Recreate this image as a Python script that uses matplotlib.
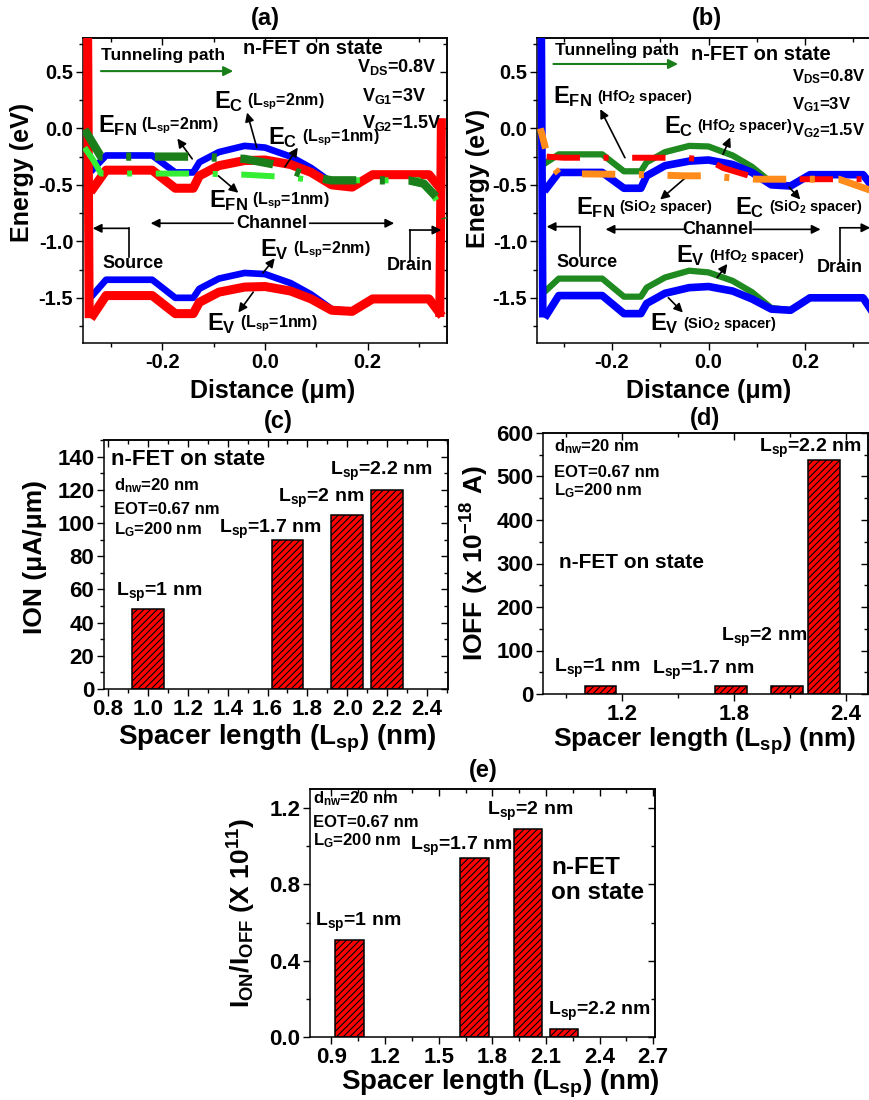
import matplotlib
matplotlib.use("Agg")
import matplotlib.pyplot as plt
from matplotlib.ticker import MultipleLocator, FormatStrFormatter

plt.rcParams.update({
    "font.family": "Liberation Sans",
    "font.weight": "bold",
    "axes.labelweight": "bold",
    "mathtext.fontset": "custom",
    "mathtext.rm": "Liberation Sans:bold",
    "mathtext.it": "Liberation Sans:bold",
    "mathtext.bf": "Liberation Sans:bold",
    "mathtext.sf": "Liberation Sans:bold",
    "mathtext.default": "bf",
    "axes.unicode_minus": False,
    "lines.scale_dashes": False,
    "hatch.linewidth": 0.8,
    "axes.linewidth": 1.1,
})

# ---------------- band-diagram data (a): spacer length 1 nm vs 2 nm ----------------
x_band = [-0.335, -0.31, -0.22, -0.175, -0.14, -0.128, -0.09, -0.04, 0.0, 0.05, 0.09, 0.13, 0.17, 0.21, 0.32, 0.34]
ec_1nm = [-0.53, -0.37, -0.37, -0.53, -0.53, -0.42, -0.33, -0.285, -0.28, -0.32, -0.39, -0.50, -0.52, -0.41, -0.41, -0.52]
ev_1nm = [-1.65, -1.48, -1.48, -1.64, -1.64, -1.54, -1.45, -1.405, -1.40, -1.44, -1.51, -1.61, -1.62, -1.51, -1.51, -1.63]
ec_2nm = [-0.36, -0.24, -0.24, -0.39, -0.39, -0.30, -0.21, -0.155, -0.17, -0.25, -0.35, -0.48, -0.52, -0.41, -0.41, -0.52]
ev_2nm = [-1.47, -1.34, -1.34, -1.50, -1.50, -1.42, -1.33, -1.28, -1.29, -1.37, -1.47, -1.60, -1.62, -1.51, -1.51, -1.63]

src_edge_x = [-0.346, -0.343]
src_edge_y = [0.85, -1.64]
drn_edge_x = [0.341, 0.344]
drn_edge_y = [-1.63, 0.05]

efn_2nm_x = [-0.352, -0.32, -0.14, -0.09, -0.04, 0.03, 0.08, 0.13, 0.28, 0.31, 0.345, 0.352]
efn_2nm_y = [-0.01, -0.25, -0.25, -0.26, -0.27, -0.33, -0.42, -0.46, -0.46, -0.49, -0.66, -0.80]
efn_1nm_x = [-0.352, -0.335, -0.32, -0.13, -0.04, 0.04, 0.10, 0.30, 0.33, 0.352]
efn_1nm_y = [-0.17, -0.28, -0.40, -0.40, -0.41, -0.43, -0.46, -0.46, -0.60, -0.80]

# ---------------- band-diagram data (b): SiO2 vs HfO2 spacer ----------------
ec_sio2 = [-0.53, -0.39, -0.39, -0.53, -0.53, -0.42, -0.33, -0.29, -0.28, -0.32, -0.39, -0.50, -0.51, -0.41, -0.41, -0.52]
ev_sio2 = [-1.65, -1.48, -1.48, -1.64, -1.64, -1.55, -1.46, -1.41, -1.40, -1.44, -1.51, -1.60, -1.61, -1.50, -1.50, -1.63]
ec_hfo2 = [-0.30, -0.23, -0.23, -0.38, -0.38, -0.30, -0.21, -0.155, -0.16, -0.24, -0.34, -0.48, -0.51, -0.41, -0.41, -0.52]
ev_hfo2 = [-1.43, -1.33, -1.33, -1.49, -1.49, -1.41, -1.32, -1.26, -1.275, -1.35, -1.45, -1.59, -1.61, -1.50, -1.50, -1.63]

efn_hfo2_x = [-0.335, -0.30, -0.14, -0.05, 0.0, 0.03, 0.10, 0.14, 0.352]
efn_hfo2_y = [-0.25, -0.26, -0.26, -0.26, -0.28, -0.35, -0.44, -0.45, -0.45]
efn_sio2_x = [-0.348, -0.33, -0.31, -0.13, -0.05, 0.0, 0.05, 0.10, 0.27, 0.33, 0.352]
efn_sio2_y = [0.0, -0.30, -0.40, -0.41, -0.42, -0.42, -0.44, -0.45, -0.45, -0.54, -0.58]

# ---------------- bar-chart data (c), (d), (e) ----------------
spacer_len = [1.0, 1.7, 2.0, 2.2]
spacer_tags = ["1", "1.7", "2", "2.2"]
i_on = [48, 90, 105, 120]              # uA/um
i_off = [18, 18, 18, 537]              # x 1e-18 A
on_off_ratio = [0.51, 0.94, 1.09, 0.042]  # x 1e11

W, H = 869, 1100


def box(left, top, right, bottom):
    return [left / W, 1 - bottom / H, (right - left) / W, (bottom - top) / H]


fig = plt.figure(figsize=(W / 100, H / 100), dpi=100)

RED = "#ff0000"
BLUE = "#0000ff"
DKGREEN = "#1a7f1a"
LTGREEN = "#33ee33"
HFGREEN = "#1f8a1f"
ORANGE = "#ff8c1a"
DASHDOT = (0, (24, 17, 3.6, 17))
ARROW = dict(arrowstyle="-|>", lw=1.2, color="k", mutation_scale=13, shrinkA=0, shrinkB=0)


def mirror_ticks(ax, xmaj, xmin, ymaj, ymin):
    sx = ax.secondary_xaxis("top")
    sx.xaxis.set_major_locator(MultipleLocator(xmaj))
    sx.xaxis.set_minor_locator(MultipleLocator(xmin))
    sx.tick_params(axis="x", which="both", direction="in", labeltop=False)
    sx.tick_params(axis="x", which="major", length=5, width=1)
    sx.tick_params(axis="x", which="minor", length=3, width=1)
    sy = ax.secondary_yaxis("right")
    sy.yaxis.set_major_locator(MultipleLocator(ymaj))
    sy.yaxis.set_minor_locator(MultipleLocator(ymin))
    sy.tick_params(axis="y", which="both", direction="in", labelright=False)
    sy.tick_params(axis="y", which="major", length=5, width=1)
    sy.tick_params(axis="y", which="minor", length=3, width=1)


def style_axes(ax, xmaj, xmin, ymaj, ymin, xfmt, yfmt, fs):
    ax.xaxis.set_major_locator(MultipleLocator(xmaj))
    ax.xaxis.set_minor_locator(MultipleLocator(xmin))
    ax.yaxis.set_major_locator(MultipleLocator(ymaj))
    ax.yaxis.set_minor_locator(MultipleLocator(ymin))
    ax.xaxis.set_major_formatter(FormatStrFormatter(xfmt))
    ax.yaxis.set_major_formatter(FormatStrFormatter(yfmt))
    ax.tick_params(which="both", direction="out", labelsize=fs, width=1)
    ax.tick_params(which="major", length=5, pad=2)
    ax.tick_params(which="minor", length=3)
    mirror_ticks(ax, xmaj, xmin, ymaj, ymin)


def band_label(ax, x, y, main, detail, big=17, small=11.5):
    t = ax.text(x, y, main, fontsize=big, ha="left", va="center", zorder=10)
    ax.annotate(detail, xy=(1.0, 0.5), xycoords=t, xytext=(3, 0),
                textcoords="offset points", fontsize=small, ha="left", va="center", zorder=10)


def region_labels(ax, src, drn, chan):
    # src / drn: (text_x, text_y, elbow_x, elbow_y0, elbow_y1, head_x)
    tx, ty, ex, ey0, ey1, hx = src
    ax.text(tx, ty, "Source", fontsize=13, ha="left", va="center")
    ax.plot([ex, ex], [ey0, ey1], color="k", lw=1.2)
    ax.annotate("", xy=(hx, ey1), xytext=(ex, ey1), arrowprops=ARROW)
    tx, ty, ex, ey0, ey1, hx = drn
    ax.text(tx, ty, "Drain", fontsize=13, ha="left", va="center")
    ax.plot([ex, ex], [ey0, ey1], color="k", lw=1.2)
    ax.annotate("", xy=(hx, ey1), xytext=(ex, ey1), arrowprops=ARROW, annotation_clip=False)
    cx, cy, l0, l1, r0, r1 = chan
    ax.text(cx, cy, "Channel", fontsize=13, ha="center", va="center")
    ax.annotate("", xy=(l1, cy), xytext=(l0, cy), arrowprops=ARROW)
    ax.annotate("", xy=(r1, cy), xytext=(r0, cy), arrowprops=ARROW)


# ======================= (a) =======================
ax = fig.add_axes(box(83, 38, 447, 343))
ax.plot(x_band, ec_2nm, color=BLUE, lw=4.8, solid_joinstyle="round", zorder=2)
ax.plot(x_band, ev_2nm, color=BLUE, lw=4.8, solid_joinstyle="round", zorder=2)
ax.plot(x_band, ec_1nm, color=RED, lw=6.5, solid_joinstyle="round", zorder=3)
ax.plot(x_band, ev_1nm, color=RED, lw=6.5, solid_joinstyle="round", zorder=3)
ax.plot(src_edge_x, src_edge_y, color=RED, lw=6.5, zorder=3)
ax.plot(drn_edge_x, drn_edge_y, color=RED, lw=6.5, zorder=3)
ax.plot(efn_1nm_x, efn_1nm_y, color=LTGREEN, lw=4.3, ls=DASHDOT, dash_capstyle="butt", zorder=4)
ax.plot(efn_2nm_x, efn_2nm_y, color=DKGREEN, lw=6.0, ls=DASHDOT, dash_capstyle="butt", zorder=5)
ax.set_xlim(-0.355, 0.355)
ax.set_ylim(-1.9, 0.8)
style_axes(ax, 0.2, 0.1, 0.5, 0.25, "%.1f", "%.1f", 14.5)
ax.set_xlabel("Distance (μm)", fontsize=18)
ax.set_ylabel("Energy (eV)", fontsize=18)
ax.xaxis.set_label_coords(0.522, -0.118)
ax.yaxis.set_label_coords(-0.135, 0.56)

ax.text(-0.32, 0.646, "Tunneling path", fontsize=12.5, ha="left", va="center")
ax.annotate("", xy=(-0.062, 0.507), xytext=(-0.32, 0.507),
            arrowprops=dict(arrowstyle="-|>", lw=1.5, color=DKGREEN, mutation_scale=14, shrinkA=0, shrinkB=0))
ax.text(0.093, 0.71, "n-FET on state", fontsize=14.5, ha="center", va="center")
ax.text(0.334, 0.54, "V$_{DS}$=0.8V", fontsize=13, ha="right", va="center")
ax.text(0.19, 0.29, "V$_{G1}$=3V", fontsize=13, ha="left", va="center")
ax.text(0.19, 0.044, "V$_{G2}$=1.5V", fontsize=13, ha="left", va="center")

band_label(ax, -0.10, 0.24, "E$_{C}$", "(L$_{sp}$=2nm)")
ax.annotate("", xy=(-0.035, 0.14), xytext=(-0.016, -0.17), arrowprops=ARROW)
band_label(ax, -0.326, 0.027, "E$_{FN}$", "(L$_{sp}$=2nm)")
ax.annotate("", xy=(-0.171, -0.09), xytext=(-0.142, -0.27), arrowprops=ARROW)
band_label(ax, 0.006, -0.083, "E$_{C}$", "(L$_{sp}$=1nm)")
ax.annotate("", xy=(0.064, -0.17), xytext=(0.039, -0.34), arrowprops=ARROW)
band_label(ax, -0.11, -0.64, "E$_{FN}$", "(L$_{sp}$=1nm)")
ax.annotate("", xy=(-0.052, -0.57), xytext=(-0.091, -0.42), arrowprops=ARROW)
band_label(ax, -0.01, -1.07, "E$_{V}$", "(L$_{sp}$=2nm)")
ax.annotate("", xy=(0.019, -1.15), xytext=(-0.004, -1.28), arrowprops=ARROW)
band_label(ax, -0.113, -1.73, "E$_{V}$", "(L$_{sp}$=1nm)")
ax.annotate("", xy=(-0.052, -1.63), xytext=(-0.023, -1.45), arrowprops=ARROW)

region_labels(ax,
              (-0.317, -1.195, -0.266, -1.14, -0.885, -0.336),
              (0.237, -1.21, 0.282, -1.17, -0.90, 0.344),
              (0.013, -0.84, -0.062, -0.223, 0.087, 0.252))

# ======================= (b) =======================
ax = fig.add_axes(box(537, 38, 880, 343))
ax.plot(x_band, ec_hfo2, color=HFGREEN, lw=4.5, solid_joinstyle="round", zorder=2)
ax.plot(x_band, ev_hfo2, color=HFGREEN, lw=4.5, solid_joinstyle="round", zorder=2)
ax.plot(x_band, ec_sio2, color=BLUE, lw=5.5, solid_joinstyle="round", zorder=3)
ax.plot(x_band, ev_sio2, color=BLUE, lw=5.5, solid_joinstyle="round", zorder=3)
ax.plot(src_edge_x, src_edge_y, color=BLUE, lw=5.5, zorder=3)
ax.plot(drn_edge_x, drn_edge_y, color=BLUE, lw=5.5, zorder=3)
ax.plot(efn_hfo2_x, efn_hfo2_y, color=RED, lw=4.3, ls=DASHDOT, dash_capstyle="butt", zorder=4)
ax.plot(efn_sio2_x, efn_sio2_y, color=ORANGE, lw=5.0, ls=(9, (24, 17, 3.6, 17)), dash_capstyle="butt", zorder=5)
ax.set_xlim(-0.355, 0.355)
ax.set_ylim(-1.9, 0.8)
style_axes(ax, 0.2, 0.1, 0.5, 0.25, "%.1f", "%.1f", 14.5)
ax.set_xlabel("Distance (μm)", fontsize=18)
ax.set_ylabel("Energy (eV)", fontsize=18)
ax.xaxis.set_label_coords(0.5, -0.118)
ax.yaxis.set_label_coords(-0.137, 0.538)

ax.text(-0.317, 0.69, "Tunneling path", fontsize=12.5, ha="left", va="center")
ax.annotate("", xy=(-0.063, 0.57), xytext=(-0.321, 0.57),
            arrowprops=dict(arrowstyle="-|>", lw=1.5, color=DKGREEN, mutation_scale=14, shrinkA=0, shrinkB=0))
ax.text(0.108, 0.655, "n-FET on state", fontsize=14.5, ha="center", va="center")
ax.text(0.173, 0.46, "V$_{DS}$=0.8V", fontsize=12, ha="left", va="center")
ax.text(0.173, 0.21, "V$_{G1}$=3V", fontsize=12, ha="left", va="center")
ax.text(0.173, -0.02, "V$_{G2}$=1.5V", fontsize=12, ha="left", va="center")

band_label(ax, -0.321, 0.28, "E$_{FN}$", "(HfO$_{2}$ spacer)", small=10.5)
ax.annotate("", xy=(-0.224, 0.17), xytext=(-0.173, -0.26), arrowprops=ARROW)
band_label(ax, -0.093, 0.02, "E$_{C}$", "(HfO$_{2}$ spacer)", small=10.5)
ax.annotate("", xy=(0.045, -0.08), xytext=(0.03, -0.23), arrowprops=ARROW)
band_label(ax, -0.274, -0.70, "E$_{FN}$", "(SiO$_{2}$ spacer)", small=10.5)
ax.annotate("", xy=(-0.10, -0.63), xytext=(-0.043, -0.42), arrowprops=ARROW)
band_label(ax, 0.055, -0.70, "E$_{C}$", "(SiO$_{2}$ spacer)", small=10.5)
ax.annotate("", xy=(0.19, -0.63), xytext=(0.167, -0.52), arrowprops=ARROW)
band_label(ax, -0.067, -1.13, "E$_{V}$", "(HfO$_{2}$ spacer)", small=10.5)
ax.annotate("", xy=(0.039, -1.20), xytext=(0.018, -1.32), arrowprops=ARROW)
band_label(ax, -0.122, -1.73, "E$_{V}$", "(SiO$_{2}$ spacer)", small=10.5)
ax.annotate("", xy=(-0.053, -1.63), xytext=(-0.083, -1.50), arrowprops=ARROW)

region_labels(ax,
              (-0.315, -1.19, -0.266, -1.13, -0.87, -0.335),
              (0.224, -1.23, 0.272, -1.19, -0.88, 0.335),
              (0.02, -0.894, -0.05, -0.213, 0.092, 0.232))

# ======================= bar panels =======================
BAR = dict(color=RED, edgecolor="black", linewidth=1.1, hatch="/////")
XLAB = "Spacer length (L$_{sp}$) (nm)"

# (c) on-current
ax = fig.add_axes(box(104, 440, 448, 689))
ax.bar(spacer_len, i_on, width=0.16, **BAR)
ax.set_xlim(0.78, 2.505)
ax.set_ylim(0, 150)
style_axes(ax, 0.2, 0.1, 20, 10, "%.1f", "%d", 16)
ax.set_xlabel(XLAB, fontsize=20)
ax.set_ylabel("ION (μA/μm)", fontsize=19)
ax.xaxis.set_label_coords(0.503, -0.135)
ax.yaxis.set_label_coords(-0.165, 0.53)
ax.text(0.815, 138, "n-FET on state", fontsize=16, ha="left", va="center")
ax.text(0.83, 122.5, "d$_{nw}$=20 nm", fontsize=12, ha="left", va="center")
ax.text(0.83, 108, "EOT=0.67 nm", fontsize=12, ha="left", va="center")
ax.text(0.83, 96, "L$_{G}$=200 nm", fontsize=12, ha="left", va="center")
for (lx, ly), tag in zip([(0.84, 58), (1.355, 96), (1.655, 115), (1.915, 131)], spacer_tags):
    ax.text(lx, ly, "L$_{sp}$=" + tag + " nm", fontsize=14, ha="left", va="center")

# (d) off-current
ax = fig.add_axes(box(543, 433, 868, 694))
ax.bar(spacer_len, i_off, width=0.17, align="edge", **BAR)
ax.set_xlim(0.777, 2.52)
ax.set_ylim(0, 600)
style_axes(ax, 0.6, 0.3, 100, 50, "%.1f", "%d", 16)
ax.set_xlabel(XLAB, fontsize=19)
ax.set_ylabel("IOFF (x 10$^{-18}$ A)", fontsize=19)
ax.xaxis.set_label_coords(0.498, -0.12)
ax.yaxis.set_label_coords(-0.16, 0.5)
ax.text(0.837, 568, "d$_{nw}$=20 nm", fontsize=12, ha="left", va="center")
ax.text(0.837, 510, "EOT=0.67 nm", fontsize=12, ha="left", va="center")
ax.text(0.837, 467, "L$_{G}$=200 nm", fontsize=12, ha="left", va="center")
ax.text(0.864, 303, "n-FET on state", fontsize=15, ha="left", va="center")
for (lx, ly), tag in zip([(0.837, 60), (1.36, 55), (1.733, 129), (1.936, 565)], spacer_tags):
    ax.text(lx, ly, "L$_{sp}$=" + tag + " nm", fontsize=14, ha="left", va="center")

# (e) on/off ratio
ax = fig.add_axes(box(310, 789, 655, 1037))
ax.bar(spacer_len, on_off_ratio, width=0.16, **BAR)
ax.set_xlim(0.78, 2.71)
ax.set_ylim(0, 1.3)
style_axes(ax, 0.3, 0.15, 0.4, 0.2, "%.1f", "%.1f", 16)
ax.set_xlabel(XLAB, fontsize=20)
ax.set_ylabel("I$_{ON}$/I$_{OFF}$ (X 10$^{11}$)", fontsize=19)
ax.xaxis.set_label_coords(0.551, -0.125)
ax.yaxis.set_label_coords(-0.15, 0.5)
ax.text(0.797, 1.247, "d$_{nw}$=20 nm", fontsize=12, ha="left", va="center")
ax.text(0.797, 1.127, "EOT=0.67 nm", fontsize=12, ha="left", va="center")
ax.text(0.797, 1.027, "L$_{G}$=200 nm", fontsize=12, ha="left", va="center")
ax.text(2.13, 0.89, "n-FET", fontsize=17.5, ha="left", va="center")
ax.text(2.13, 0.755, "on state", fontsize=17.5, ha="left", va="center")
for (lx, ly), tag in zip([(0.81, 0.6), (1.337, 1.0), (1.77, 1.18), (2.11, 0.136)], spacer_tags):
    ax.text(lx, ly, "L$_{sp}$=" + tag + " nm", fontsize=14, ha="left", va="center")

# panel titles
for label, (px, py) in {"(a)": (265, 18), "(b)": (707, 18), "(c)": (278, 422),
                        "(d)": (705, 418), "(e)": (483, 770)}.items():
    fig.text(px / W, 1 - py / H, label, fontsize=17, ha="center", va="center")

fig.savefig("out.png", dpi=100)
